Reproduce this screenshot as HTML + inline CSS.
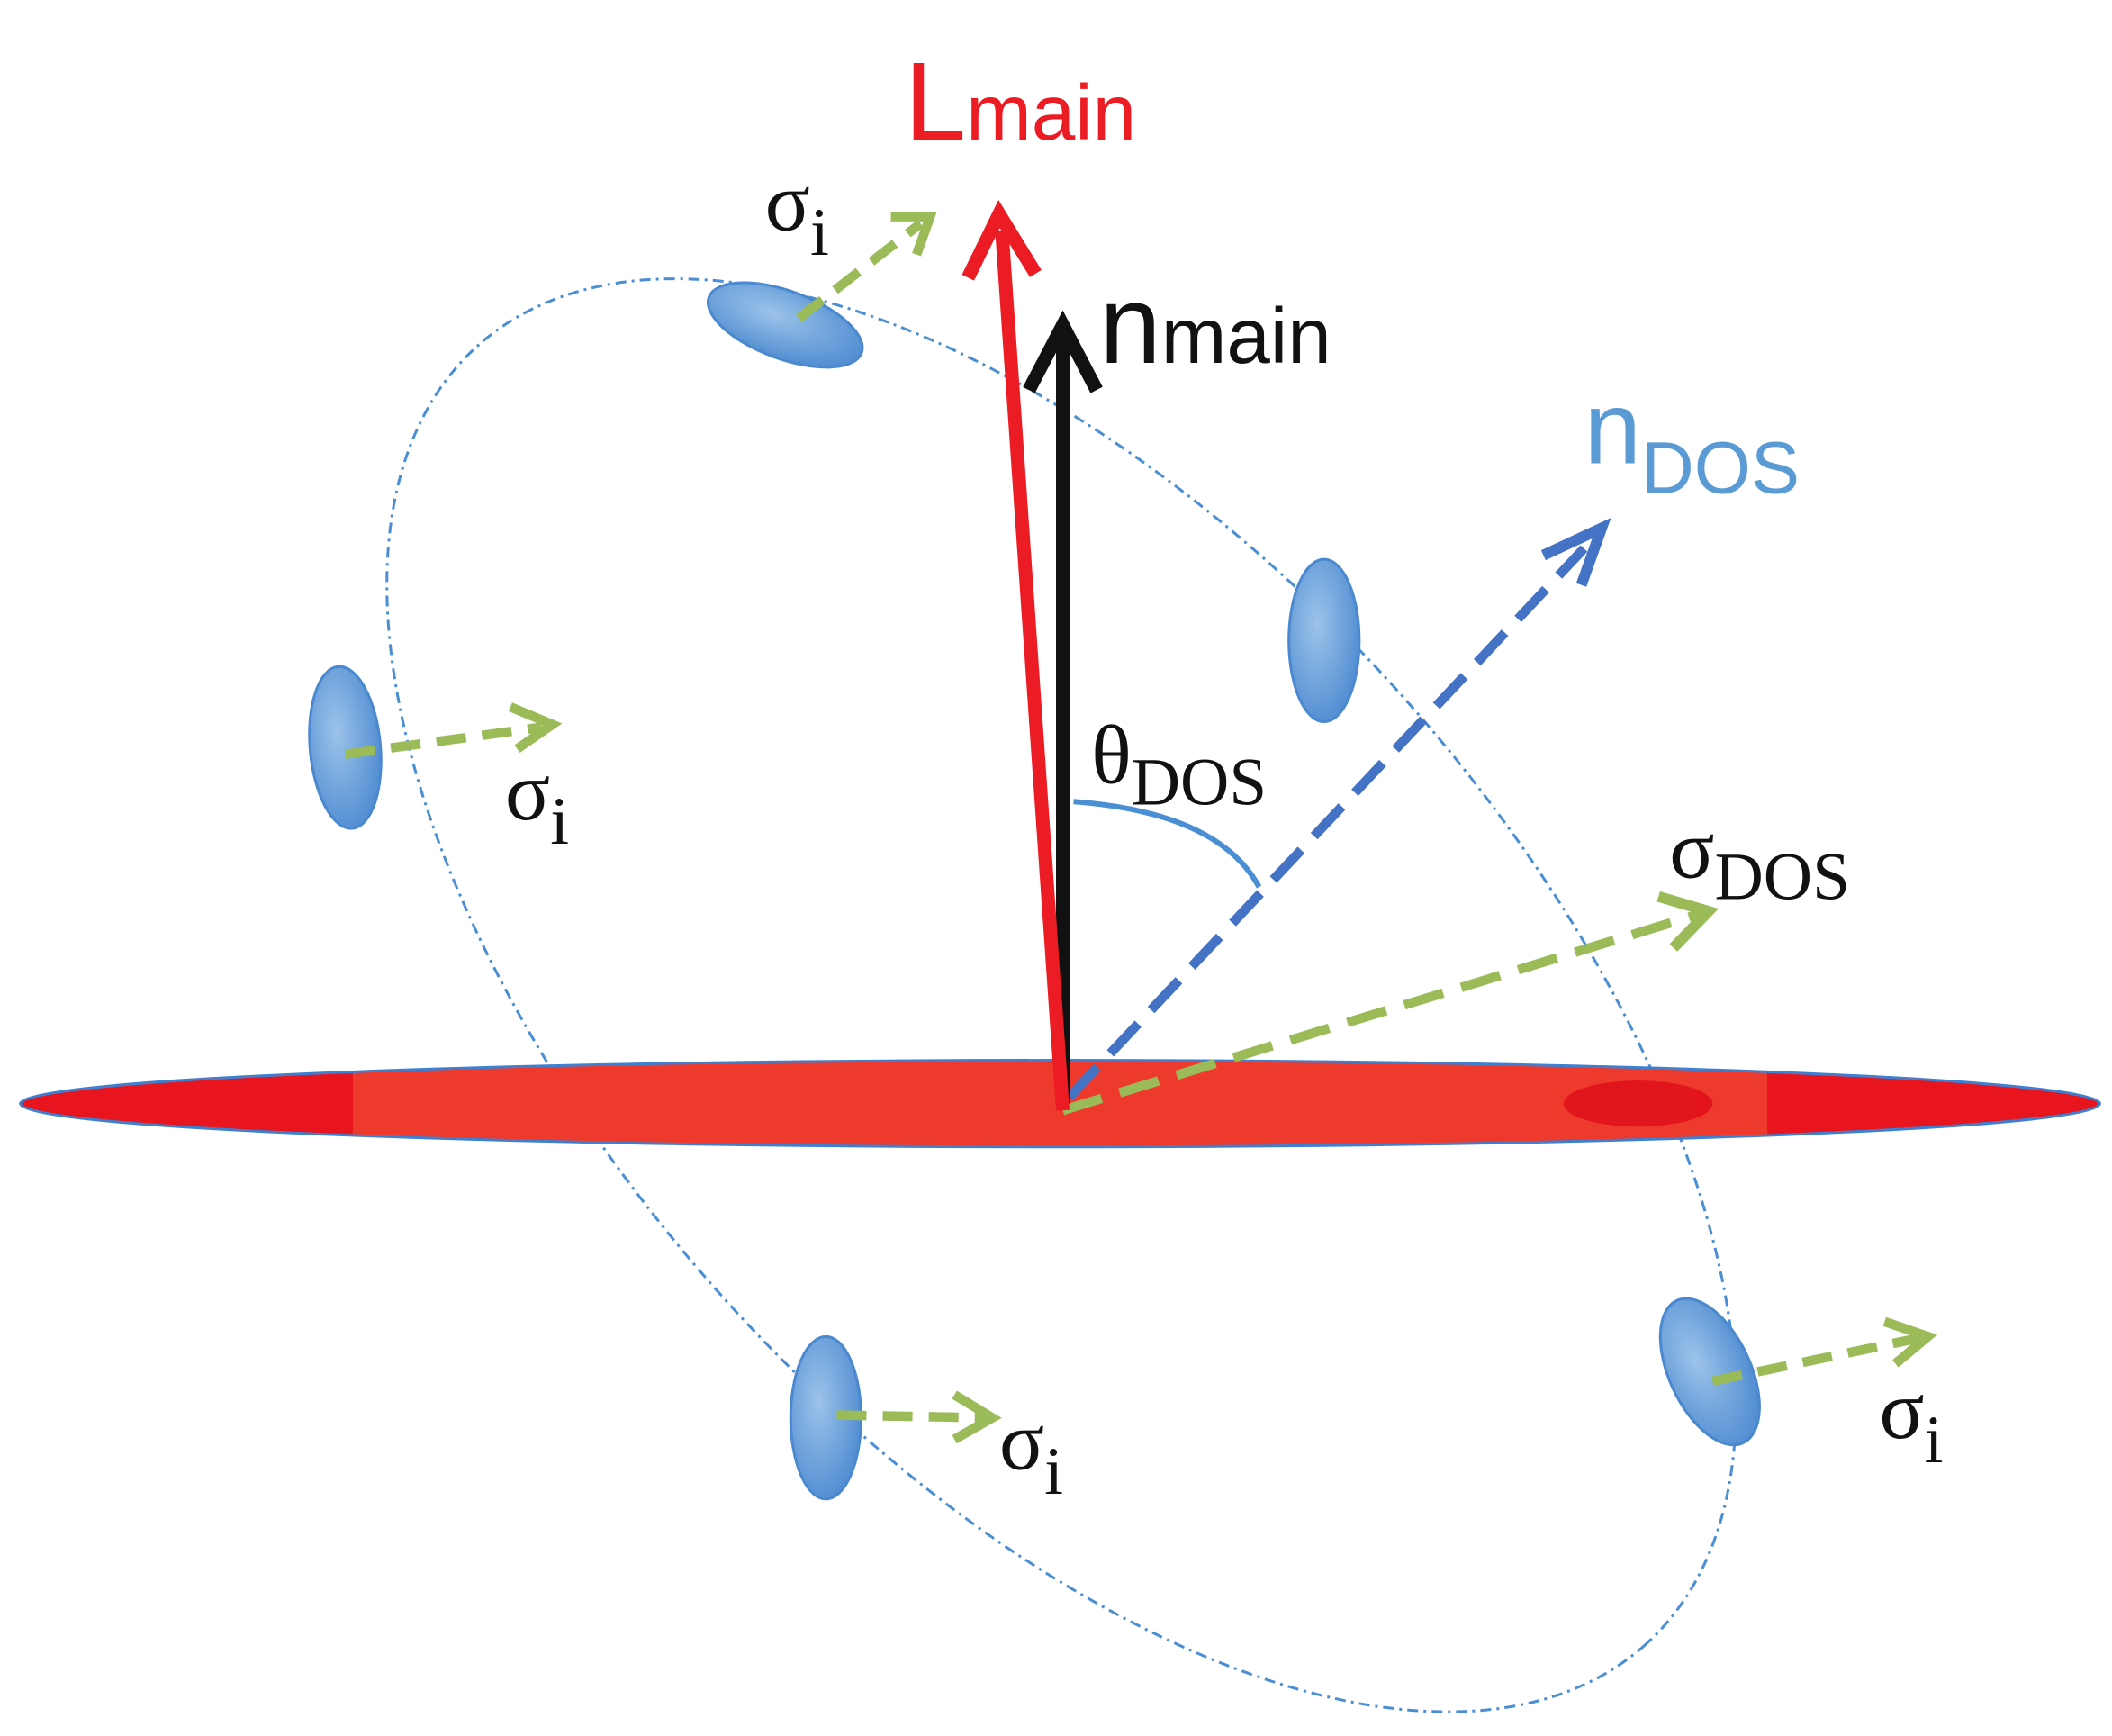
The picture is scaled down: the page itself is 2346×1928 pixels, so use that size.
<!DOCTYPE html>
<html><head><meta charset="utf-8"><style>
html,body{margin:0;padding:0;background:#fff;overflow:hidden;width:2346px;height:1928px;}
svg{display:block;}
.s{font-family:"Liberation Serif",serif;}
.a{font-family:"Liberation Sans",sans-serif;}
</style></head><body>
<svg width="2346" height="1928" viewBox="0 0 1560 1282" xmlns="http://www.w3.org/2000/svg">
<defs>
<linearGradient id="disk" x1="0" x2="1" y1="0" y2="0">
<stop offset="0" stop-color="#e8141e"/><stop offset="0.16" stop-color="#e8141e"/><stop offset="0.16" stop-color="#ee3a2c"/><stop offset="0.84" stop-color="#ee3a2c"/><stop offset="0.84" stop-color="#e8141e"/><stop offset="1" stop-color="#e8141e"/>
</linearGradient>
<radialGradient id="bl" cx="0.4" cy="0.4" r="0.7">
<stop offset="0" stop-color="#9cc3ea"/><stop offset="1" stop-color="#4a88cf"/>
</radialGradient>
</defs>
<ellipse cx="784" cy="735" rx="645" ry="335" transform="rotate(48 784 735)" fill="none" stroke="#4a8fd4" stroke-width="2" stroke-dasharray="8 4 2 4"/>
<ellipse cx="783" cy="815" rx="768" ry="32" fill="url(#disk)" stroke="#3f7fd0" stroke-width="2"/>
<ellipse cx="1210" cy="815" rx="55" ry="17" fill="#e2141c"/>
<g fill="url(#bl)" stroke="#4a88cf" stroke-width="2">
<ellipse cx="580" cy="240" rx="60" ry="25" transform="rotate(20 580 240)"/>
<ellipse cx="978" cy="473" rx="26" ry="60"/>
<ellipse cx="255" cy="552" rx="26" ry="60" transform="rotate(-5 255 552)"/>
<ellipse cx="610" cy="1047" rx="26" ry="60"/>
<ellipse cx="1263" cy="1013" rx="30" ry="58" transform="rotate(-25 1263 1013)"/>
</g>
<path d="M793 592 Q900 600 930 655" fill="none" stroke="#4a8fd4" stroke-width="4"/>
<line x1="790" y1="810" x2="1170" y2="405" stroke="#4472c4" stroke-width="7" stroke-dasharray="30 14"/>
<polyline points="1140,410 1183,390 1168,432" fill="none" stroke="#4472c4" stroke-width="8"/>
<line x1="785" y1="820" x2="1255" y2="675" stroke="#9bbb59" stroke-width="7" stroke-dasharray="30 14"/>
<polyline points="1225,662 1262,673 1236,700" fill="none" stroke="#9bbb59" stroke-width="8"/>
<line x1="785" y1="815" x2="785" y2="250" stroke="#111" stroke-width="10"/>
<polyline points="760,288 785,240 810,288" fill="none" stroke="#111" stroke-width="10"/>
<line x1="785" y1="820" x2="740" y2="170" stroke="#ec1c24" stroke-width="10"/>
<polyline points="715,205 738,158 765,202" fill="none" stroke="#ec1c24" stroke-width="10"/>
<g stroke="#9bbb59" stroke-width="7" fill="none">
<line x1="590" y1="235" x2="680" y2="165" stroke-dasharray="22 12"/><polyline points="658,160 687,160 677,188"/>
<line x1="255" y1="557" x2="400" y2="537" stroke-dasharray="22 12"/><polyline points="377,522 408,535 382,553"/>
<line x1="618" y1="1045" x2="728" y2="1047" stroke-dasharray="22 12"/><polyline points="705,1030 733,1047 705,1063"/>
<line x1="1265" y1="1020" x2="1418" y2="988" stroke-dasharray="22 12"/><polyline points="1392,976 1424,987 1400,1007"/>
</g>
<text x="668" y="103" class="a" font-size="82" fill="#ec1c24">L<tspan font-size="58">main</tspan></text>
<text x="812" y="268" class="a" font-size="82" fill="#111">n<tspan font-size="58">main</tspan></text>
<text x="1170" y="342" class="a" font-size="76" fill="#5b9bd5">n<tspan font-size="54" dy="22">DOS</tspan></text>
<text x="806" y="578" class="s" font-size="62" fill="#111">θ<tspan font-size="50" dy="16">DOS</tspan></text>
<text x="1233" y="648" class="s" font-size="62" fill="#111">σ<tspan font-size="50" dy="16">DOS</tspan></text>
<text x="565" y="170" class="s" font-size="62" fill="#111">σ<tspan font-size="50" dy="18">i</tspan></text>
<text x="373" y="605" class="s" font-size="62" fill="#111">σ<tspan font-size="50" dy="18">i</tspan></text>
<text x="738" y="1085" class="s" font-size="62" fill="#111">σ<tspan font-size="50" dy="18">i</tspan></text>
<text x="1388" y="1062" class="s" font-size="62" fill="#111">σ<tspan font-size="50" dy="18">i</tspan></text>
</svg>
</body></html>
